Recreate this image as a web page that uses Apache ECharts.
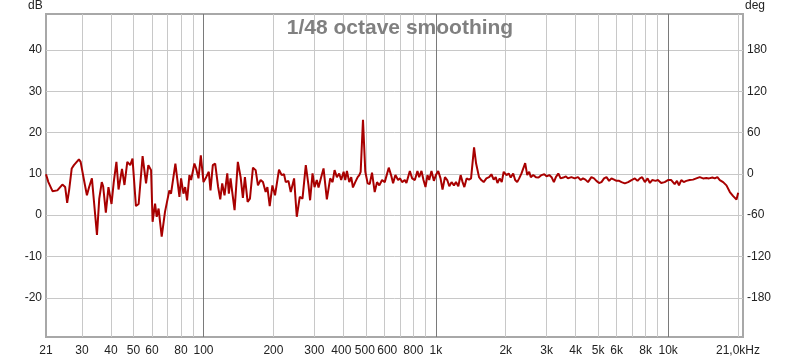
<!DOCTYPE html>
<html>
<head>
<meta charset="utf-8">
<script src="https://cdn.jsdelivr.net/npm/echarts@6.0.0/dist/echarts.min.js"></script>
<style>
html,body{margin:0;padding:0;background:#fff;}
#chart{width:800px;height:358px;}
</style>
</head>
<body>
<div id="chart"></div>
<script>
const titleText = '1/48 octave smoothing';
const freqs = [21,21.5,22.4,23.5,24.7,25.4,25.9,26.4,27.1,27.7,
29.1,29.6,30.6,31.5,32.2,33.1,33.6,34.8,35.6,36.5,
37.0,38.0,39.0,40.2,41.1,42.2,43.1,44.6,45.7,47.0,
48.4,49.5,51.2,52.6,54.7,56.6,57.9,59.5,60.4,61.9,
62.9,64.1,66.1,68.3,71.3,72.5,75.7,78.8,80.1,82.0,
83.4,85.0,87.0,88.5,91.4,93.0,95.2,97.4,100,102.7,
105.4,107.2,109.7,112.3,115.5,118.1,120.4,123.2,126.6,128.6,
130.8,133.0,136.1,140.6,144.5,147.8,150.8,154.9,158.5,163.3,
167.7,171.6,176.2,180.3,185.2,188.4,192.8,198.0,203.2,211.4,
217.1,222.2,226.0,232.1,237.5,245.5,252.1,259.7,266.8,275.7,
283.2,287.7,294.7,300.6,307.5,312.8,321.0,328.7,339.7,351.0,
359.5,366.7,375.2,383.9,391.5,401.1,407.5,414.4,424.1,432.5,
439.9,450.1,461.0,468.4,474.9,485.9,497.2,509.1,519.4,531.4,
545.8,558.5,571.4,587.0,602.9,627.4,641.9,654.9,669.9,688.2,
702.0,716.1,735.6,747.4,773.1,791.0,812.6,833.7,847.9,867.7,
885.1,902.8,921.0,936.6,958.1,981.3,1001,1024,1048,1069,
1095,1120,1143,1169,1197,1221,1250,1279,1304,1327,
1357,1390,1418,1461,1491,1535,1570,1607,1651,1696,
1735,1775,1811,1842,1884,1922,1960,2014,2060,2101,
2153,2196,2240,2285,2338,2378,2425,2474,2523,2564,
2626,2695,2768,2852,2930,2997,3079,3150,3223,3287,
3367,3445,3538,3631,3704,3832,3960,4093,4204,4300,
4404,4519,4675,4797,4913,5042,5164,5299,5428,5570,
5704,5853,5995,6152,6300,6511,6727,6958,7190,7385,
7555,7731,7941,8157,8346,8539,8831,9035,9337,9658,
9980,10313,10668,10914,11133,11392,11667,11974,12384,12798,
13224,13677,14134,14605,15004,15503,15878,16293,16687,17247,
17823,18436,19050,19688,20022];
const levels = [9.9,8.0,5.8,6.0,7.4,6.8,3.0,6.0,11.3,12.1,
13.5,12.9,8.5,4.8,6.8,8.9,8.5,-4.8,4.0,8.0,
7.0,0.6,6.8,2.7,8.0,12.9,6.2,11.2,7.3,12.9,
12.1,13.7,2.2,2.7,14.3,7.7,12.1,10.9,-1.6,2.8,
-0.4,1.6,-5.2,0.8,6.0,5.2,12.5,4.4,8.9,5.2,
6.8,3.6,9.7,8.5,12.5,11.3,8.9,14.5,8.0,9.2,
10.5,6.0,12.1,12.5,7.0,3.8,7.7,4.8,10.1,5.2,
8.9,5.6,1.2,12.9,9.2,4.2,9.2,3.2,4.0,11.5,
10.9,7.2,8.5,8.0,5.6,6.8,2.2,7.2,4.8,11.0,
9.7,9.9,8.0,8.3,5.6,8.9,-0.4,4.4,4.0,12.1,
7.2,3.6,10.1,6.8,8.5,6.7,9.2,11.3,3.8,8.9,
8.0,10.9,9.2,10.1,8.5,10.5,8.5,10.7,8.0,9.2,
6.7,8.0,9.2,9.7,10.5,23.1,10.5,7.7,7.5,10.3,
5.6,8.0,7.2,8.5,8.0,11.5,9.7,7.7,9.7,8.5,
8.9,8.0,8.5,7.8,10.7,8.9,8.5,10.7,9.2,10.7,
8.5,6.8,9.7,8.5,10.7,8.3,9.7,10.7,8.9,6.2,
9.2,8.5,7.0,8.0,7.2,8.0,7.0,9.7,8.0,6.8,
8.9,8.6,8.9,16.4,12.5,9.2,8.5,8.0,8.9,9.2,
9.9,8.6,9.2,7.8,8.9,8.0,10.5,9.7,10.1,9.1,
10.1,8.5,8.0,8.9,10.1,9.7,12.6,9.7,10.5,9.2,
9.7,9.2,9.1,9.7,9.9,9.4,9.7,9.2,8.0,9.2,
10.1,8.9,9.1,9.4,8.9,9.2,8.9,9.2,8.5,8.9,
8.6,8.0,9.2,8.9,8.3,7.8,8.0,8.9,9.2,8.3,
8.9,8.6,8.3,8.3,8.0,7.7,8.0,8.5,8.9,8.3,
8.9,9.2,8.0,8.9,7.8,8.5,8.3,8.5,7.8,8.0,
8.5,8.5,7.5,8.3,7.2,8.5,8.0,8.3,8.5,8.6,
8.9,9.2,8.9,9.0,8.9,9.1,8.9,9.2,8.5,8.0,
7.2,5.6,4.6,3.8,5.4];
const gridFreqs = [30,40,50,60,70,80,90,100,200,300,400,500,600,700,800,900,
1000,2000,3000,4000,5000,6000,7000,8000,9000,10000,20000];
const decadeFreqs = [100,1000,10000];
const labelFreqs = [21,30,40,50,60,80,100,200,300,400,500,600,800,
1000,2000,3000,4000,5000,6000,8000,10000,21000];
const dbTicks = [-20,-10,0,10,20,30,40];
const degTicks = [-180,-120,-60,0,60,120,180];
const dbRange = [-29.5, 48.7];
const degRange = [-237, 232.2];
const freqRange = [21, 21000];

const FONT = 'Liberation Sans, Arial, sans-serif';
const chart = echarts.init(document.getElementById('chart'), null, {renderer:'canvas'});
const seriesData = freqs.map((f, i) => [f, levels[i]]);
const lbl = {fontSize: 12, color: '#222', fontFamily: FONT};

chart.setOption({
  animation: false,
  backgroundColor: '#ffffff',
  title: {
    text: titleText, left: 'center', top: 13,
    textStyle: {fontSize: 21, fontWeight: 'bold', color: '#808080', fontFamily: FONT}
  },
  graphic: [
    {type: 'text', left: 28, top: 0, style: {text: 'dB', font: '12px ' + FONT, fill: '#222'}},
    {type: 'text', left: 745, top: 0, style: {text: 'deg', font: '12px ' + FONT, fill: '#222'}}
  ],
  grid: {left: 46, right: 57, top: 14, bottom: 21, show: true,
    borderColor: '#a8a8a8', borderWidth: 2, backgroundColor: '#ffffff'},
  xAxis: {
    type: 'log', logBase: 10, min: freqRange[0], max: freqRange[1],
    axisLine: {show: false},
    axisTick: {show: false, customValues: gridFreqs},
    splitLine: {show: true, lineStyle: {color: '#c8c8c8', width: 1}},
    axisLabel: {
      customValues: labelFreqs, margin: 8, fontSize: 12, color: '#222', fontFamily: FONT,
      formatter: function (v) {
        if (v >= 20000) return '{e|21,0kHz}';
        if (v === 400) return '{f|400}';
        if (v === 500) return '{l|500}';
        if (v === 600) return '{r|600}';
        if (v >= 1000) return (v / 1000) + 'k';
        return String(v);
      },
      rich: {
        e: Object.assign({padding: [0, 10, 0, 0]}, lbl),
        f: Object.assign({padding: [0, 4, 0, 0]}, lbl),
        l: Object.assign({padding: [0, 2, 0, 0]}, lbl),
        r: Object.assign({padding: [0, 0, 0, 6]}, lbl)
      }
    }
  },
  yAxis: [
    {
      type: 'value', min: dbRange[0], max: dbRange[1], position: 'left',
      axisLine: {show: false},
      axisTick: {show: false, customValues: dbTicks},
      splitLine: {show: true, lineStyle: {color: '#c8c8c8', width: 1}},
      axisLabel: {customValues: dbTicks, margin: 4, fontSize: 12, color: '#222', fontFamily: FONT}
    },
    {
      type: 'value', min: degRange[0], max: degRange[1], position: 'right',
      axisLine: {show: false},
      axisTick: {show: false, customValues: degTicks},
      splitLine: {show: false},
      axisLabel: {customValues: degTicks, margin: 4, fontSize: 12, color: '#222', fontFamily: FONT}
    }
  ],
  series: [{
    type: 'line', xAxisIndex: 0, yAxisIndex: 0, data: seriesData,
    showSymbol: false, symbol: 'none', smooth: false, z: 5,
    lineStyle: {color: '#a80000', width: 2},
    markLine: {
      silent: true, symbol: ['none', 'none'], label: {show: false}, z: 1,
      lineStyle: {color: '#7a7a7a', width: 1, type: 'solid'},
      data: decadeFreqs.map(f => ({xAxis: f}))
    }
  }]
});
</script>
</body>
</html>
